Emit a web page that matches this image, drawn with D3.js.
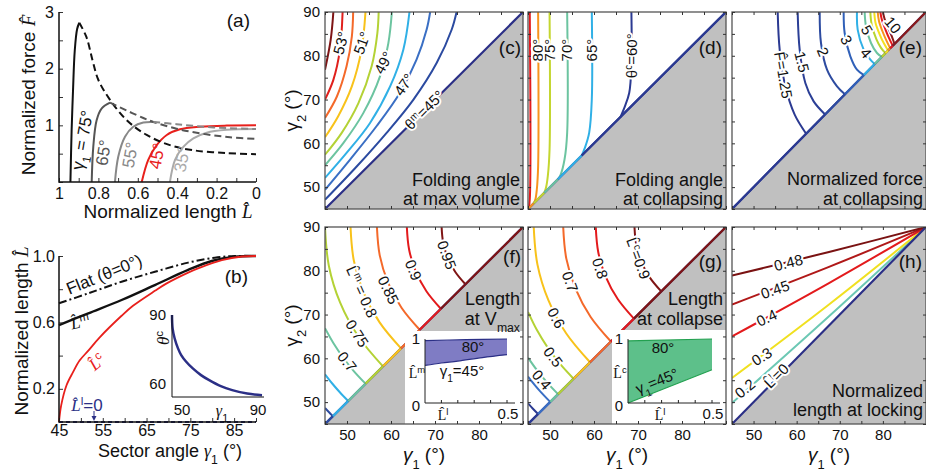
<!DOCTYPE html>
<html>
<head>
<meta charset="utf-8">
<script src="https://cdn.jsdelivr.net/npm/d3@7"></script>
<style>
body { margin: 0; background: #fff; }
svg { display: block; }
</style>
</head>
<body>
<svg id="fig" width="926" height="471"></svg>
<script>
// ---------- data ----------

// (a) force vs length, points are [L, F]
var aAngles = [75, 65, 55, 45, 35]
var aColors = ['#111', '#555', '#888', '#e8201c', '#aaa']
var aRise = [
    [[0.942, 0], [0.936, 0.9], [0.929, 1.6], [0.92, 2.32], [0.908, 2.7], [0.897, 2.81]],
    [[0.834, 0], [0.826, 0.62], [0.809, 1.09], [0.783, 1.30], [0.741, 1.40]],
    [[0.716, 0], [0.699, 0.45], [0.665, 0.80], [0.623, 0.975], [0.572, 1.05], [0.521, 1.06]],
    [[0.58, 0], [0.547, 0.39], [0.504, 0.65], [0.453, 0.83], [0.386, 0.93], [0.284, 0.975], [0.149, 0.995], [0, 1.0]],
    [[0.437, 0], [0.411, 0.39], [0.369, 0.62], [0.318, 0.77], [0.25, 0.87], [0.149, 0.92], [0, 0.935]]
]
var aFall = [
    [[0.897, 2.81], [0.861, 2.56], [0.83, 2.15], [0.80, 1.8], [0.741, 1.45], [0.656, 1.09], [0.555, 0.83], [0.437, 0.65], [0.318, 0.56], [0.149, 0.51], [0, 0.49]],
    [[0.741, 1.40], [0.656, 1.26], [0.572, 1.13], [0.521, 1.06], [0.403, 0.94], [0.268, 0.85], [0.132, 0.79], [0, 0.76]],
    [[0.521, 1.06], [0.403, 1.02], [0.268, 0.975], [0.132, 0.95], [0, 0.935]]
]

// (b) lengths vs sector angle, points are [gamma1, L]
var bFlat = [[45, 0.715], [51.7, 0.775], [59.3, 0.845], [66.9, 0.905], [74.5, 0.96], [80.6, 0.99], [85.2, 1.0], [90, 1.0]]
var bLm = [[45, 0.584], [51.7, 0.655], [59.3, 0.735], [66.9, 0.825], [74.5, 0.916], [79.9, 0.97], [85.2, 0.996], [90, 1.0]]
var bLc = [[45, 0], [45.5, 0.1], [46.7, 0.22], [48.2, 0.3], [49.7, 0.37], [51.7, 0.43], [54.3, 0.51], [59.3, 0.64], [61.9, 0.7],
    [66.9, 0.79], [69.6, 0.835], [74.5, 0.9], [77.2, 0.93], [82.2, 0.975], [86.8, 0.997], [90, 1.0]]
var bLl = [[45, 0], [90, 0]]
// inset: theta_c vs gamma1
var bTheta = [[45, 90], [45.3, 84.2], [46.3, 79.9], [48.0, 75.5], [49.6, 72.6], [52.1, 69.7], [55.4, 66.8], [59.5, 63.9],
    [63.6, 61.7], [69.4, 59.1], [75.1, 57.4], [82.6, 55.9], [90, 55.2]]

// (c) folding angle at max volume, contour points [gamma1, gamma2]
var cLevels = [46, 47, 48, 49, 50, 51, 52, 53, 54]
var cColors = ['#2b4aa0', '#3a6fc4', '#30b0e6', '#6cc4a0', '#b4d235', '#f8c21a', '#f4692a', '#e0201c', '#7f1515']
var cLines = [
    [[45, 47.1], [52.2, 54.7], [59.0, 62.4], [65.1, 70.0], [70.4, 78.4], [73.8, 86.0], [74.9, 90]],
    [[45, 49.4], [50.7, 56.3], [56.7, 63.9], [62.0, 71.5], [65.8, 79.1], [68.1, 86.0], [68.9, 90]],
    [[45, 52.1], [49.9, 57.8], [55.2, 64.6], [59.8, 73.0], [62.8, 81.4], [64.2, 90]],
    [[45, 55.0], [49.2, 60.1], [53.7, 66.9], [57.5, 75.3], [59.4, 82.9], [60.2, 90]],
    [[45, 57.4], [48.8, 62.4], [52.6, 69.2], [55.6, 77.6], [56.9, 85.2], [57.2, 90]],
    [[45, 61.4], [48.0, 66.2], [51.1, 73.0], [53.3, 81.4], [54.2, 90]],
    [[45, 65.8], [47.7, 70.7], [49.9, 77.6], [51.1, 84.4], [51.4, 90]],
    [[45, 70.0], [46.9, 74.5], [48.4, 81.4], [49.0, 90]],
    [[45, 76.8], [46.3, 83.7], [46.9, 90]]
]

// (d) folding angle at collapsing
var dLevels = [60, 65, 70, 75, 80, 85]
var dColors = ['#2b3a92', '#30b0e6', '#6cc4a0', '#c4d630', '#f7941d', '#e31a1c']
var dLines = [
    [[68.5, 90], [68.5, 77.6], [68.0, 71.5], [67.0, 68.4], [66.0, 66.0]],
    [[59.5, 90], [59.5, 70.0], [58.9, 62.4], [57.9, 58.9], [57.2, 57.2]],
    [[53.9, 90], [53.9, 62.4], [53.3, 56.3], [52.4, 52.8], [51.8, 51.8]],
    [[49.9, 90], [49.9, 58.6], [49.5, 52.5], [49.1, 49.9], [48.7, 48.7]],
    [[47.3, 90], [47.3, 54.7], [47.0, 49.4], [46.7, 47.3], [46.3, 46.3]],
    [[45.4, 90], [45.4, 47.1], [45.15, 45.15]]
]

// (e) normalized force at collapsing
var eLevels = [1.25, 1.5, 2, 3, 4, 5, 6, 7, 8, 9, 10]
var eColors = ['#2b3a92', '#2b3f96', '#2d4ba0', '#3060b8', '#30b0e6', '#6cc4a0', '#b8d530', '#f5e020', '#f7941d', '#e31a1c', '#8b1a1a']
var eLines = [
    [[55.6, 90], [56.06, 81.4], [57.37, 73.02], [59.54, 66.55], [62.2, 62.2]],
    [[60.23, 90], [60.7, 81.4], [62.01, 73.78], [63.94, 69.59], [66.6, 66.6]],
    [[65.34, 90], [65.64, 82.92], [67.04, 76.83], [69.36, 73.02], [71.2, 71.2]],
    [[70.9, 90], [71.13, 85.2], [72.45, 79.87], [73.99, 76.83], [75.6, 75.6]],
    [[73.99, 90], [74.15, 85.96], [75.54, 81.4], [77.09, 79.11], [78.1, 78.1]],
    [[75.77, 90], [76.08, 86.73], [77.24, 82.92], [78.63, 80.63], [79.75, 79.75]],
    [[77.09, 90], [77.4, 87.1], [78.48, 83.8], [79.56, 81.8], [80.6, 80.6]],
    [[78.0, 90], [78.3, 87.5], [79.3, 84.8], [80.2, 82.9], [81.2, 81.2]],
    [[78.8, 90], [79.1, 87.9], [79.9, 85.6], [80.8, 83.5], [81.7, 81.7]],
    [[79.4, 90], [79.8, 88.1], [80.6, 86.0], [81.4, 84.1], [82.3, 82.3]],
    [[80.0, 90], [80.4, 88.4], [81.2, 86.3], [82.0, 84.6], [82.7, 82.7]]
]

// (f) length at max volume
var fLevels = [0.6, 0.65, 0.7, 0.75, 0.8, 0.85, 0.9, 0.95]
var fColors = ['#2b4aa0', '#30b0e6', '#6cc4a0', '#b4d235', '#f8c21a', '#f4692a', '#e31a1c', '#7f1515']
var fLines = [
    [[45, 48.67], [45.92, 47.69], [46.8, 46.8]],
    [[45, 56.34], [46.64, 54.25], [48.37, 52.25], [50.26, 50.26]],
    [[45, 66.87], [46.93, 63.44], [49.11, 60.19], [51.54, 57.1], [54.22, 54.22]],
    [[45, 90], [45.86, 81.22], [48.42, 72.78], [52.58, 65.0], [58.18, 58.18]],
    [[50.8, 90], [51.55, 82.35], [53.78, 75.0], [57.41, 68.22], [62.28, 62.28]],
    [[56.8, 90], [57.44, 83.52], [59.33, 77.29], [62.39, 71.55], [66.52, 66.52]],
    [[63.6, 90], [64.11, 84.85], [65.61, 79.9], [68.05, 75.33], [71.33, 71.33]],
    [[71.5, 90], [71.86, 86.39], [72.91, 82.92], [74.62, 79.72], [76.92, 76.92]]
]
// (f) inset band: [L_l, L_m]
var fBandTop = [[0, 0.975], [0.25, 0.99], [0.5, 1.0]]
var fBandBottom = [[0, 0.587], [0.1, 0.625], [0.2, 0.655], [0.35, 0.71], [0.5, 0.755]]

// (g) length at collapse
var gLevels = [0.2, 0.3, 0.4, 0.5, 0.6, 0.7, 0.8, 0.9]
var gColors = ['#2b3a92', '#3a6fc4', '#6cc4a0', '#b4d235', '#f8c21a', '#f4692a', '#e31a1c', '#7f1515']
var gLines = [
    [[45, 49.71], [46.12, 48.49], [47.29, 47.29]],
    [[45, 55.83], [47.42, 52.86], [50.05, 50.05]],
    [[45, 60.15], [47.08, 57.23], [49.36, 54.44], [51.82, 51.82]],
    [[45, 70.61], [47.03, 66.45], [49.45, 62.49], [52.24, 58.78], [55.35, 55.35]],
    [[46.3, 90], [47.14, 81.47], [49.63, 73.28], [53.66, 65.72], [59.1, 59.1]],
    [[53.0, 90], [53.71, 82.78], [55.82, 75.84], [59.24, 69.44], [63.84, 63.84]],
    [[60.4, 90], [60.97, 84.23], [62.65, 78.67], [65.39, 73.55], [69.07, 69.07]],
    [[69.2, 90], [69.6, 85.94], [70.78, 82.04], [72.7, 78.44], [75.29, 75.29]]
]
var gBandTop = [[0, 0.97], [0.5, 1.0]]
var gBandBottom = [[0, 0], [0.5, 0.52]]

// (h) length at locking
var hLevels = [0.2, 0.3, 0.4, 0.45, 0.48]
var hColors = ['#6cc8b4', '#f0e020', '#e31a1c', '#b01818', '#7a1212']
var hLines = [
    [[45, 49.8], [67.5, 69.6], [90, 90]],
    [[45, 55.5], [67.5, 72.3], [90, 90]],
    [[45, 65.0], [67.5, 77.2], [90, 90]],
    [[45, 72.3], [67.5, 80.9], [90, 90]],
    [[45, 78.9], [67.5, 84.3], [90, 90]]
]

// ---------- helpers ----------
var FONT = '"Liberation Sans", Arial, sans-serif'
var SERIF = '"Liberation Serif", "DejaVu Serif", serif'
var NAVY = '#2b2f86'
var svg = d3.select('#fig').attr('font-family', FONT)

var Lhat = 'L\u0302'

function rich(el, parts) {
    parts.forEach(function(p) {
        if (typeof p === 'string') { el.append('tspan').text(p); return }
        var ts = el.append('tspan').text(p.t)
        if (p.sup) ts.attr('baseline-shift', 'super').attr('font-size', '68%')
        if (p.sub) ts.attr('baseline-shift', 'sub').attr('font-size', '68%')
        if (p.it) ts.attr('font-style', 'italic')
        if (p.serif) ts.attr('font-family', SERIF)
    })
}

function label(g, px, py, rot, parts, o) {
    o = o || {}
    var t = g.append('text')
        .attr('transform', 'translate(' + px + ',' + py + ') rotate(' + rot + ')')
        .attr('text-anchor', o.anchor || 'middle')
        .attr('dy', o.dy == null ? '0.35em' : o.dy)
        .attr('font-size', o.fs || 15)
        .attr('fill', o.fill || '#111')
    if (o.halo) t.attr('stroke', '#fff').attr('stroke-width', o.halo).attr('paint-order', 'stroke').attr('stroke-linejoin', 'round')
    rich(t, parts)
    return t
}

function tidyAxis(sel, fs) {
    sel.select('.domain').remove()
    sel.attr('font-family', FONT).attr('font-size', fs)
    sel.selectAll('.tick line').attr('stroke', '#333')
    sel.selectAll('.tick text').attr('fill', '#111')
}

// ---------- panel (a) ----------
var xa = d3.scaleLinear().domain([1, 0]).range([59, 256])
var ya = d3.scaleLinear().domain([0, 3]).range([182, 12])
var lineA = d3.line().x(function(d) { return xa(d[0]) }).y(function(d) { return ya(d[1]) }).curve(d3.curveCatmullRom)

var pa = svg.append('g')
aRise.forEach(function(pts, i) {
    pa.append('path').attr('d', lineA(pts)).attr('fill', 'none').attr('stroke', aColors[i]).attr('stroke-width', 2)
})
aFall.forEach(function(pts, i) {
    pa.append('path').attr('d', lineA(pts)).attr('fill', 'none').attr('stroke', aColors[i])
        .attr('stroke-width', 2).attr('stroke-dasharray', '7,4')
})

pa.append('g').attr('transform', 'translate(0,182)')
    .call(d3.axisBottom(xa).tickValues(d3.range(0, 1.001, 0.1)).tickSizeInner(-4).tickSizeOuter(0).tickPadding(6)
        .tickFormat(function(d) { var k = Math.round(d * 10); return k % 2 === 0 ? d3.format('~g')(k / 10) : '' }))
    .call(tidyAxis, 16)
pa.append('g').attr('transform', 'translate(59,0)')
    .call(d3.axisLeft(ya).tickValues(d3.range(0, 3.01, 0.5)).tickSizeInner(-4).tickSizeOuter(0).tickPadding(5)
        .tickFormat(function(d) { return d > 0 && d % 1 === 0 ? d : '' }))
    .call(tidyAxis, 16)
pa.append('path').attr('d', 'M59,12V182H256').attr('fill', 'none').attr('stroke', '#111').attr('stroke-width', 1.5)

var aTags = [
    { at: [0.883, 0.74], parts: [{ t: '\u03b3' }, { t: '1', sub: 1 }, ' = 75°'] },
    { at: [0.775, 0.517], parts: ['65°'] },
    { at: [0.640, 0.476], parts: ['55°'] },
    { at: [0.504, 0.459], parts: ['45°'] },
    { at: [0.377, 0.40], parts: ['35°'] }
]
aTags.forEach(function(d, i) {
    label(pa, xa(d.at[0]), ya(d.at[1]), -80, d.parts, { fs: 17, fill: aColors[i] })
})
label(pa, 250, 27, 0, ['(a)'], { fs: 19, anchor: 'end', dy: 0 })
label(pa, 35, 95, -90, ['Normalized force ', { t: 'F\u0302', it: 1, serif: 1 }], { fs: 19, dy: 0 })
label(pa, 168, 218, 0, ['Normalized length ', { t: Lhat, it: 1, serif: 1 }], { fs: 19, dy: 0 })

// ---------- panel (b) ----------
var xb = d3.scaleLinear().domain([45, 90]).range([59, 256])
var yb = d3.scaleLinear().domain([0, 1]).range([422, 256])
var lineB = d3.line().x(function(d) { return xb(d[0]) }).y(function(d) { return yb(d[1]) }).curve(d3.curveCatmullRom)
var pb = svg.append('g')

pb.append('path').attr('d', lineB(bLl)).attr('fill', 'none').attr('stroke', NAVY).attr('stroke-width', 2).attr('stroke-dasharray', '4,3')
pb.append('path').attr('d', lineB(bFlat)).attr('fill', 'none').attr('stroke', '#111').attr('stroke-width', 2).attr('stroke-dasharray', '8,3,2,3')
pb.append('path').attr('d', lineB(bLm)).attr('fill', 'none').attr('stroke', '#111').attr('stroke-width', 2.4)
pb.append('path').attr('d', lineB(bLc)).attr('fill', 'none').attr('stroke', '#e8201c').attr('stroke-width', 1.8)

pb.append('g').attr('transform', 'translate(0,422)')
    .call(d3.axisBottom(xb).tickValues(d3.range(45, 91, 5)).tickSizeInner(-4).tickSizeOuter(0).tickPadding(3)
        .tickFormat(function(d) { return (d - 45) % 10 === 0 && d < 90 ? d : '' }))
    .call(tidyAxis, 16)
pb.append('g').attr('transform', 'translate(59,0)')
    .call(d3.axisLeft(yb).tickValues([0.2, 0.4, 0.6, 0.8, 1.0]).tickSizeInner(-4).tickSizeOuter(0).tickPadding(4)
        .tickFormat(function(d) { return Math.round(d * 10) % 4 === 2 ? d3.format('.1f')(d) : '' }))
    .call(tidyAxis, 16)
pb.append('path').attr('d', 'M59,256V422H256').attr('fill', 'none').attr('stroke', '#111').attr('stroke-width', 1.5)

label(pb, xb(55.3), yb(0.89), -22, ['Flat (\u03b8=0°)'], { fs: 17 })
label(pb, xb(49.8), yb(0.604), -12, [{ t: Lhat, it: 1, serif: 1 }, { t: 'm', sup: 1 }], { fs: 17 })
label(pb, xb(53.6), yb(0.363), -40, [{ t: Lhat, it: 1, serif: 1 }, { t: 'c', sup: 1 }], { fs: 17, fill: '#e8201c' })
label(pb, xb(51.4), yb(0.10), 0, [{ t: Lhat, it: 1, serif: 1 }, { t: 'l', sup: 1 }, '=0'], { fs: 17, fill: NAVY })
pb.append('path').attr('d', 'M94,411V419').attr('stroke', NAVY).attr('stroke-width', 1)
pb.append('path').attr('d', 'M91.5,416L94,421L96.5,416Z').attr('fill', NAVY)
label(pb, 248, 283, 0, ['(b)'], { fs: 19, anchor: 'end', dy: 0 })
label(pb, 28, 331, -90, ['Normalized length ', { t: Lhat, it: 1, serif: 1 }], { fs: 19, dy: 0 })
label(pb, 170, 457, 0, ['Sector angle ', { t: '\u03b3', it: 1, serif: 1 }, { t: '1', sub: 1 }, ' (°)'], { fs: 18, dy: 0 })

// inset of (b)
var xbi = d3.scaleLinear().domain([45, 90]).range([172, 262])
var ybi = d3.scaleLinear().domain([54.4, 90]).range([397, 315])
pb.append('path').attr('d', d3.line().x(function(d) { return xbi(d[0]) }).y(function(d) { return ybi(d[1]) }).curve(d3.curveCatmullRom)(bTheta))
    .attr('fill', 'none').attr('stroke', NAVY).attr('stroke-width', 2.5)
pb.append('path').attr('d', 'M172,315V397H264').attr('fill', 'none').attr('stroke', '#111').attr('stroke-width', 1)
label(pb, 166, ybi(90), 0, ['90'], { fs: 15, anchor: 'end' })
label(pb, 166, ybi(60), 0, ['60'], { fs: 15, anchor: 'end' })
label(pb, xbi(50), 410, 0, ['50'], { fs: 15 })
label(pb, xbi(90) - 4, 410, 0, ['90'], { fs: 15 })
label(pb, 222, 410, 0, [{ t: '\u03b3', it: 1, serif: 1 }, { t: '1', sub: 1 }], { fs: 16 })
label(pb, 163, 338, -90, [{ t: '\u03b8', it: 1, serif: 1 }, { t: 'c', sup: 1 }], { fs: 17 })

// ---------- contour panels (c)-(h) ----------
function contourPanel(p) {
    var x = d3.scaleLinear().domain([45, 90]).range([p.x0, p.x0 + p.w])
    var y = d3.scaleLinear().domain([45, 90]).range([p.y0 + p.h, p.y0])
    var line = d3.line().x(function(d) { return x(d[0]) }).y(function(d) { return y(d[1]) })
    var g = svg.append('g')
    svg.append('clipPath').attr('id', 'clip' + p.tag).append('rect')
        .attr('x', p.x0).attr('y', p.y0).attr('width', p.w).attr('height', p.h)
    var body = g.append('g').attr('clip-path', 'url(#clip' + p.tag + ')')

    body.append('path').attr('d', line([[45, 45], [90, 45], [90, 90]]) + 'Z').attr('fill', '#c0c0c0')

    body.selectAll('path.ct').data(p.lines).join('path').attr('class', 'ct')
        .attr('d', line.curve(d3.curveCatmullRom))
        .attr('fill', 'none').attr('stroke-width', 2)
        .attr('stroke', function(d, i) { return p.colors[i] })
    line.curve(d3.curveLinear)

    // diagonal, coloured piecewise between contour end points
    body.append('path').attr('d', line([[45, 45], [90, 90]])).attr('stroke', p.diag).attr('stroke-width', 2.2)
    if (p.segments) {
        var ends = p.lines.map(function(l, i) { return { v: l[l.length - 1][0], c: p.colors[i] } })
            .sort(function(a, b) { return a.v - b.v })
        var prev = 45
        ends.forEach(function(e) {
            body.append('path').attr('d', line([[prev, prev], [e.v, e.v]])).attr('stroke', e.c).attr('stroke-width', 2.2)
            prev = e.v
        })
        body.append('path').attr('d', line([[prev, prev], [90, 90]])).attr('stroke', ends[ends.length - 1].c).attr('stroke-width', 2.2)
    }

    if (p.box) {
        body.append('rect').attr('x', p.box[0]).attr('y', p.box[1]).attr('width', p.box[2] - p.box[0]).attr('height', p.box[3] - p.box[1]).attr('fill', '#fff')
    }

    (p.tags || []).forEach(function(t) {
        label(body, x(t.at[0]), y(t.at[1]), t.rot, t.parts, { fs: 15, halo: 4 })
    })

    g.append('rect').attr('x', p.x0).attr('y', p.y0).attr('width', p.w).attr('height', p.h)
        .attr('fill', 'none').attr('stroke', '#555').attr('stroke-width', 1.3)

    var tv = d3.range(45, 91, 5)
    g.append('g').attr('transform', 'translate(0,' + (p.y0 + p.h) + ')')
        .call(d3.axisBottom(x).tickValues(tv).tickSizeInner(-3).tickSizeOuter(0).tickPadding(5)
            .tickFormat(function(d) { return p.xLabels && d % 10 === 0 && d < 90 ? d : '' }))
        .call(tidyAxis, 15)
    g.append('g').attr('transform', 'translate(0,' + p.y0 + ')')
        .call(d3.axisTop(x).tickValues(tv).tickSizeInner(-3).tickSizeOuter(0).tickFormat(''))
        .call(tidyAxis, 15)
    g.append('g').attr('transform', 'translate(' + p.x0 + ',0)')
        .call(d3.axisLeft(y).tickValues(tv).tickSizeInner(-3).tickSizeOuter(0).tickPadding(5)
            .tickFormat(function(d) { return p.yLabels && d % 10 === 0 ? d : '' }))
        .call(tidyAxis, 15)
    g.append('g').attr('transform', 'translate(' + (p.x0 + p.w) + ',0)')
        .call(d3.axisRight(y).tickValues(tv).tickSizeInner(-3).tickSizeOuter(0).tickFormat(''))
        .call(tidyAxis, 15)

    label(g, p.letter[1], p.letter[2], 0, [p.letter[0]], { fs: 19, anchor: 'end', dy: 0 })
    p.text.forEach(function(t) {
        label(g, p.x0 + p.w - 3, t[1], 0, t[0], { fs: 18, anchor: 'end', dy: 0 })
    })
    if (p.yLabels) {
        label(g, 298, p.y0 + p.h / 2, -90, [{ t: '\u03b3' }, { t: '2', sub: 1 }, ' (°)'], { fs: 19, dy: 0 })
    }
    if (p.xLabels) {
        label(g, p.x0 + p.w / 2, 461, 0, [{ t: '\u03b3', it: 1 }, { t: '1', sub: 1 }, ' (°)'], { fs: 19, dy: 0 })
    }
    return g
}

function bandInset(g, xr, top, bottom, fill, stroke, yName) {
    var xi = d3.scaleLinear().domain([0, 0.5]).range(xr)
    var yi = d3.scaleLinear().domain([0, 1]).range([403, 339])
    var edge = d3.line().x(function(d) { return xi(d[0]) }).y(function(d) { return yi(d[1]) }).curve(d3.curveCatmullRom)
    g.append('path').attr('d', edge(top) + 'L' + edge(bottom.slice().reverse()).slice(1) + 'Z')
        .attr('fill', fill).attr('stroke', 'none')
    g.append('path').attr('d', edge(top)).attr('fill', 'none').attr('stroke', stroke).attr('stroke-width', 1.2)
    g.append('path').attr('d', edge(bottom)).attr('fill', 'none').attr('stroke', stroke).attr('stroke-width', 1.2)
    g.append('path').attr('d', 'M' + xr[0] + ',339V403H' + (xr[1] + 8)).attr('fill', 'none').attr('stroke', '#222').attr('stroke-width', 1)
    d3.range(0.1, 0.51, 0.1).forEach(function(v) {
        g.append('path').attr('d', 'M' + xi(v) + ',403v-3').attr('stroke', '#222')
    })
    label(g, xr[0] - 5, 339, 0, ['1'], { fs: 15, anchor: 'end' })
    label(g, xr[0] - 5, 406, 0, ['0'], { fs: 15, anchor: 'end' })
    label(g, xi(0.5) + 1, 414, 0, ['0.5'], { fs: 15 })
    label(g, xr[0] - 8, 373, 0, [{ t: Lhat, serif: 1 }, { t: yName, sup: 1 }], { fs: 14 })
    return xi
}

var cTags = [
    { at: [48.6, 82.9], rot: -75, parts: ['53°'] },
    { at: [53.4, 82.9], rot: -70, parts: ['51°'] },
    { at: [58.3, 78.4], rot: -62, parts: ['49°'] },
    { at: [62.95, 73.4], rot: -55, parts: ['47°'] },
    { at: [67.6, 67.6], rot: -45, parts: ['\u03b8', { t: 'm', sup: 1 }, '=45°'] }
]
var dTags = [
    { at: [47.3, 81.3], rot: -90, parts: ['80°'] },
    { at: [49.9, 81.3], rot: -90, parts: ['75°'] },
    { at: [53.9, 81.3], rot: -90, parts: ['70°'] },
    { at: [59.5, 81.3], rot: -90, parts: ['65°'] },
    { at: [68.5, 80.0], rot: -90, parts: ['\u03b8', { t: 'c', sup: 1 }, '=60°'] }
]
var eTags = [
    { at: [56.9, 75.6], rot: 80, parts: ['F\u0302=1.25'] },
    { at: [61.2, 78.6], rot: 76, parts: ['1.5'] },
    { at: [66.1, 80.9], rot: 68, parts: ['2'] },
    { at: [71.5, 83.6], rot: 64, parts: ['3'] },
    { at: [76.1, 80.6], rot: 50, parts: ['4'] },
    { at: [76.3, 85.9], rot: 60, parts: ['5'] },
    { at: [82.3, 87.0], rot: 50, parts: ['10'] }
]
var fTags = [
    { at: [50.0, 59.23], rot: 52, parts: ['0.7'] },
    { at: [52.27, 65.72], rot: 57, parts: ['0.75'] },
    { at: [53.34, 75.22], rot: 66, parts: [Lhat, { t: 'm', sup: 1 }, ' = 0.8'] },
    { at: [59.39, 75.61], rot: 64, parts: ['0.85'] },
    { at: [65.07, 80.18], rot: 67, parts: ['0.9'] },
    { at: [72.66, 83.6], rot: 70, parts: ['0.95'] }
]
var gTags = [
    { at: [48.1, 55.1], rot: 50, parts: ['0.4'] },
    { at: [50.7, 60.3], rot: 53, parts: ['0.5'] },
    { at: [51.4, 69.2], rot: 62, parts: ['0.6'] },
    { at: [54.55, 77.5], rot: 70, parts: ['0.7'] },
    { at: [61.36, 80.56], rot: 72, parts: ['0.8'] },
    { at: [70.07, 82.85], rot: 70, parts: [Lhat, { t: 'c', sup: 1 }, '=0.9'] }
]
var hTags = [
    { at: [58.06, 81.84], rot: -14, parts: ['0.48'] },
    { at: [55.0, 75.7], rot: -19, parts: ['0.45'] },
    { at: [53.05, 69.25], rot: -25, parts: ['0.4'] },
    { at: [51.9, 60.4], rot: -32, parts: ['0.3'] },
    { at: [48.0, 53.1], rot: -40, parts: ['0.2'] },
    { at: [55.3, 56.0], rot: -45, parts: [Lhat, { t: 'l', sup: 1 }, '=0'] }
]

contourPanel({ tag: 'c', x0: 325, y0: 12, w: 198, h: 197, lines: cLines, colors: cColors, diag: NAVY, segments: false,
    tags: cTags, yLabels: true, xLabels: false, letter: ['(c)', 521, 54],
    text: [[['Folding angle'], 186], [['at max volume'], 205]] })
contourPanel({ tag: 'd', x0: 528, y0: 12, w: 198, h: 197, lines: dLines, colors: dColors, diag: NAVY, segments: true,
    tags: dTags, yLabels: false, xLabels: false, letter: ['(d)', 722, 54],
    text: [[['Folding angle'], 186], [['at collapsing'], 205]] })
contourPanel({ tag: 'e', x0: 732, y0: 12, w: 194, h: 197, lines: eLines, colors: eColors, diag: NAVY, segments: true,
    tags: eTags, yLabels: false, xLabels: false, letter: ['(e)', 922, 54],
    text: [[['Normalized force'], 185], [['at collapsing'], 205]] })
var gf = contourPanel({ tag: 'f', x0: 325, y0: 227, w: 198, h: 197, lines: fLines, colors: fColors, diag: NAVY, segments: true,
    tags: fTags, yLabels: true, xLabels: true, letter: ['(f)', 521, 263], box: [405, 331, 523, 424],
    text: [[['Length'], 305], [['at V', { t: 'max', sub: 1 }], 325]] })
var gg = contourPanel({ tag: 'g', x0: 528, y0: 227, w: 198, h: 197, lines: gLines, colors: gColors, diag: NAVY, segments: true,
    tags: gTags, yLabels: false, xLabels: true, letter: ['(g)', 722, 268], box: [612, 330, 726, 424],
    text: [[['Length'], 305], [['at collapse'], 325]] })
contourPanel({ tag: 'h', x0: 732, y0: 227, w: 194, h: 197, lines: hLines, colors: hColors, diag: NAVY, segments: false,
    tags: hTags, yLabels: false, xLabels: true, letter: ['(h)', 922, 268],
    text: [[['Normalized'], 397], [['length at locking'], 416]] })

// insets in (f) and (g)
bandInset(gf, [425, 507], fBandTop, fBandBottom, '#7f7cc4', '#2b2f86', 'm')
label(gf, 473, 347, 0, ['80°'], { fs: 15 })
label(gf, 462, 371, 0, [{ t: '\u03b3' }, { t: '1', sub: 1 }, '=45°'], { fs: 15 })
label(gf, 443, 415, 0, [{ t: Lhat, serif: 1 }, { t: 'l', sup: 1 }], { fs: 14 })

bandInset(gg, [628, 712], gBandTop, gBandBottom, '#5dc08a', '#23a050', 'c')
label(gg, 663, 348, 0, ['80°'], { fs: 15 })
label(gg, 657, 381, -22, [{ t: '\u03b3' }, { t: '1', sub: 1 }, '=45°'], { fs: 15 })
label(gg, 660, 415, 0, [{ t: Lhat, serif: 1 }, { t: 'l', sup: 1 }], { fs: 14 })
</script>
</body>
</html>
